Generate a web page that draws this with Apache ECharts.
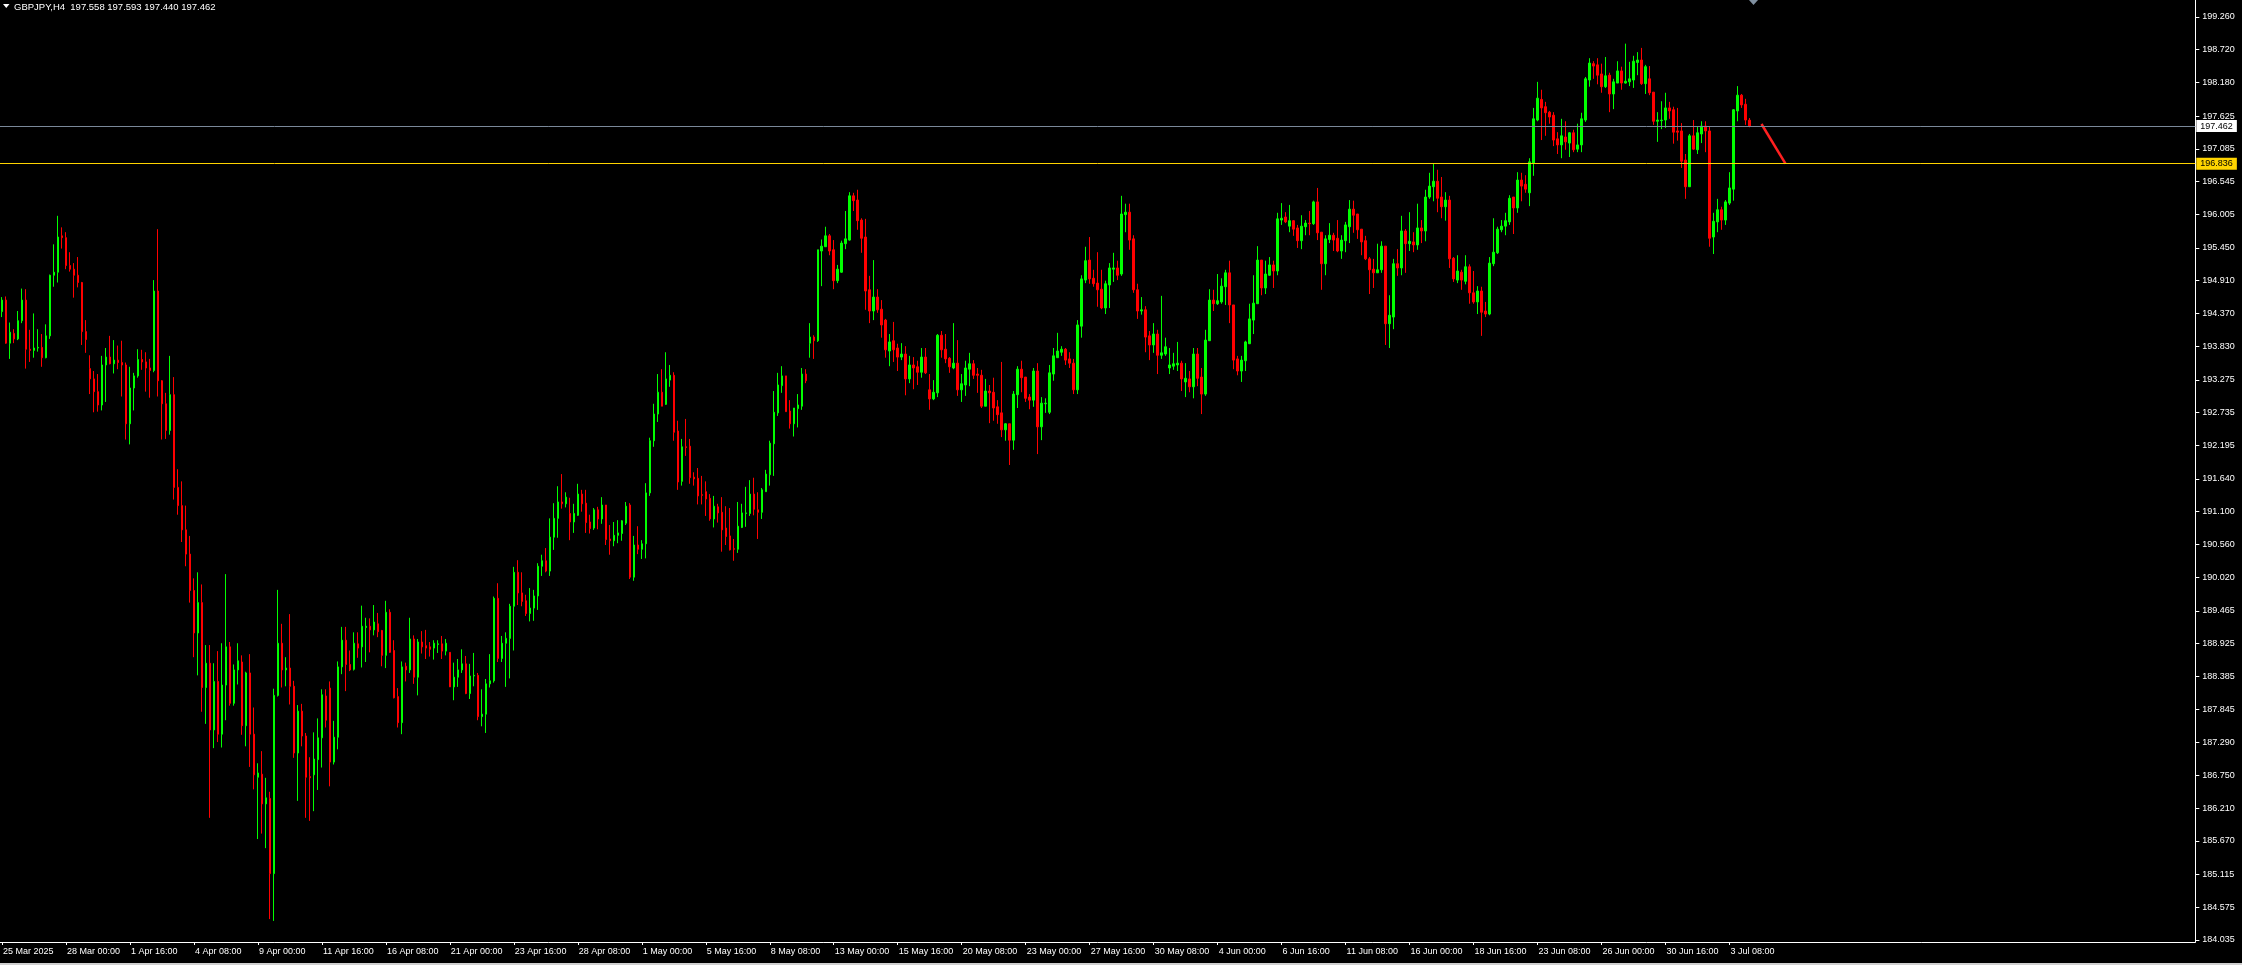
<!DOCTYPE html>
<html><head><meta charset="utf-8">
<script src="https://cdn.jsdelivr.net/npm/echarts@6/dist/echarts.min.js"></script>
<style>html,body{margin:0;padding:0;background:#000;overflow:hidden}#c{width:2242px;height:965px}</style>
</head><body><div id="c"></div>
<script>
const titleText = 'GBPJPY,H4  197.558 197.593 197.440 197.462';
const timeLabels = ['25 Mar 2025','28 Mar 00:00','1 Apr 16:00','4 Apr 08:00','9 Apr 00:00','11 Apr 16:00','16 Apr 08:00','21 Apr 00:00','23 Apr 16:00','28 Apr 08:00','1 May 00:00','5 May 16:00','8 May 08:00','13 May 00:00','15 May 16:00','20 May 08:00','23 May 00:00','27 May 16:00','30 May 08:00','4 Jun 00:00','6 Jun 16:00','11 Jun 08:00','16 Jun 00:00','18 Jun 16:00','23 Jun 08:00','26 Jun 00:00','30 Jun 16:00','3 Jul 08:00'];
const yTicks = [184.035,184.575,185.115,185.670,186.210,186.750,187.290,187.845,188.385,188.925,189.465,190.020,190.560,191.100,191.640,192.195,192.735,193.275,193.830,194.370,194.910,195.450,196.005,196.545,197.085,197.625,198.180,198.720,199.260];
const bidPrice = 197.462;
const levelPrice = 196.836;
const trendLine = [[439.7, 197.495], [446.3, 196.84]];

const opens = [
194.40,194.59,193.88,194.04,193.95,194.25,194.59,193.78,193.76,193.80,
193.81,193.64,194.00,195.00,195.05,195.65,195.62,195.16,195.10,195.00,
194.88,194.07,193.46,193.29,193.08,192.86,193.52,193.65,193.54,193.60,
193.56,193.52,192.55,193.14,193.34,193.61,193.57,193.47,193.43,194.74,
193.26,192.88,192.44,193.03,191.50,191.20,190.80,190.40,189.80,189.10,
189.60,188.20,188.60,187.50,188.30,187.43,188.24,188.87,187.94,188.49,
188.62,187.57,188.44,187.43,186.72,186.77,186.28,186.37,185.13,188.07,
188.93,188.49,188.52,188.22,187.12,187.81,187.40,186.73,186.76,187.01,
187.37,188.06,188.19,186.97,187.38,188.54,188.98,188.58,188.50,188.92,
188.87,189.19,189.21,189.15,189.25,189.14,188.73,189.44,188.81,188.05,
187.62,188.55,188.49,189.00,188.37,188.95,188.89,188.87,188.85,188.91,
188.92,188.80,188.78,188.21,188.37,188.49,188.59,188.10,188.39,188.40,
187.72,187.76,188.26,188.31,189.67,188.68,188.93,189.01,189.54,190.10,
189.76,189.63,189.42,189.51,189.71,190.20,190.29,190.12,190.68,190.99,
191.26,191.23,191.07,190.93,191.04,191.39,191.24,190.93,190.83,191.13,
190.98,191.21,190.65,190.62,190.71,190.74,190.91,191.21,190.02,190.55,
190.48,190.57,191.41,192.27,192.71,193.07,192.87,193.27,193.35,192.43,
191.60,192.17,192.18,191.67,191.65,191.38,191.43,191.32,190.98,191.18,
191.09,190.83,190.70,190.49,190.48,190.84,191.07,191.07,191.39,191.13,
191.09,191.43,191.71,192.22,192.73,193.18,193.34,192.76,192.55,192.80,
192.84,193.37,193.88,193.98,193.92,195.40,195.47,195.65,195.42,194.91,
195.05,195.52,195.58,196.31,196.24,195.91,195.63,194.76,194.41,194.64,
194.44,194.26,193.75,193.92,193.80,193.65,193.70,193.29,193.52,193.49,
193.40,193.65,193.11,192.96,193.06,194.01,193.78,193.63,193.47,193.55,
193.11,193.19,193.45,193.54,193.37,193.35,192.84,193.09,193.07,192.83,
192.73,192.45,192.55,192.28,193.03,193.45,193.32,192.99,192.94,193.42,
192.50,192.88,192.74,193.37,193.64,193.73,193.78,193.62,193.55,193.11,
194.16,194.92,195.25,194.95,194.87,194.77,194.46,194.84,195.10,195.12,
195.02,196.00,196.04,195.60,194.76,194.41,194.43,194.00,193.85,194.03,
193.68,193.70,193.47,193.50,193.52,193.55,193.24,193.29,193.16,193.70,
193.32,193.04,193.92,194.59,194.53,194.56,194.81,195.04,194.51,193.62,
193.42,193.59,193.87,194.26,194.53,195.25,194.79,195.00,195.17,195.07,
195.91,195.96,195.81,195.90,195.78,195.57,195.80,195.86,195.85,196.21,
195.71,195.19,195.59,195.66,195.61,195.40,195.57,195.80,196.09,196.01,
195.76,195.57,195.27,195.10,195.04,195.09,195.48,194.20,194.31,195.19,
195.12,195.73,195.52,195.55,195.50,195.78,195.73,196.29,196.46,196.55,
196.29,196.13,196.24,195.28,194.92,195.05,194.90,195.14,194.71,194.56,
194.74,194.41,194.36,195.19,195.37,195.75,195.81,195.88,196.29,196.11,
196.57,196.50,196.36,196.85,197.56,197.90,197.78,197.69,197.64,197.25,
197.15,197.28,197.18,197.35,197.08,197.15,197.56,198.22,198.49,198.47,
198.32,198.11,198.30,197.99,198.17,198.37,198.17,198.19,198.22,198.51,
198.55,198.16,198.24,198.02,197.54,197.55,197.56,197.76,197.73,197.38,
197.38,196.90,196.46,197.30,197.07,197.33,197.46,197.38,195.63,195.88,
196.08,195.91,196.19,196.42,197.71,197.97,197.82,197.558];

const highs = [
194.64,194.65,194.22,194.11,194.41,194.78,194.77,194.10,194.37,194.11,
194.03,194.19,195.01,195.51,195.98,195.79,195.71,195.38,195.20,195.30,
194.89,194.26,193.68,193.42,193.37,193.67,193.80,194.00,193.93,193.84,
193.92,193.56,193.49,193.39,193.78,193.77,193.73,193.62,194.92,195.76,
193.27,193.06,193.67,193.32,191.80,191.60,191.20,190.70,190.00,190.10,
189.90,188.90,188.90,188.60,188.80,188.93,190.07,188.95,188.58,188.93,
188.73,188.46,188.75,187.87,186.95,187.15,186.71,186.48,188.18,189.81,
189.25,188.70,189.41,188.31,187.91,187.93,187.45,187.05,187.46,187.69,
188.17,188.17,188.30,187.65,188.63,189.20,189.20,188.81,189.11,189.11,
189.55,189.35,189.34,189.56,189.43,189.15,189.63,189.49,188.98,188.19,
188.63,188.61,189.35,189.06,189.00,189.13,189.15,188.95,188.98,188.98,
189.05,189.00,188.78,188.61,188.67,188.83,188.72,188.59,188.77,188.44,
188.17,188.34,188.75,189.70,189.92,189.05,189.11,189.58,190.19,190.30,
190.10,189.73,189.84,189.81,190.25,190.39,190.50,190.99,191.24,191.52,
191.72,191.42,191.33,191.23,191.56,191.46,191.46,191.05,191.16,191.18,
191.34,191.21,190.88,190.93,190.96,190.96,191.26,191.24,190.70,190.86,
190.63,191.57,192.32,192.88,193.37,193.45,193.73,193.52,193.40,192.60,
192.30,192.63,192.30,191.75,191.82,191.69,191.60,191.39,191.36,191.23,
191.34,191.19,191.16,190.65,191.26,191.23,191.51,191.62,191.66,191.42,
191.49,191.79,192.27,193.09,193.39,193.50,193.34,192.94,192.81,193.04,
193.47,193.45,194.21,194.01,195.42,195.59,195.80,195.68,195.58,195.17,
195.57,196.06,196.37,196.36,196.41,195.94,195.93,194.99,195.25,194.77,
194.59,194.28,194.03,194.23,193.87,193.88,193.83,193.67,193.65,193.59,
193.80,193.80,193.37,193.27,194.03,194.08,194.03,193.65,194.21,193.93,
193.37,193.59,193.72,193.60,193.47,193.44,193.29,193.19,193.31,192.94,
193.57,192.56,192.55,193.09,193.50,193.59,193.32,193.04,193.47,193.55,
192.99,192.97,193.52,193.80,194.05,193.83,193.80,193.73,193.62,194.26,
195.00,195.47,195.63,195.09,195.38,195.09,194.91,195.20,195.37,195.24,
196.31,196.18,196.18,195.66,194.86,194.64,194.49,194.08,194.21,194.10,
194.66,193.97,193.80,193.72,193.90,193.59,193.55,193.42,193.80,193.80,
193.47,194.10,194.77,194.76,195.02,194.95,195.09,195.24,194.51,193.67,
193.67,193.92,194.53,195.00,195.48,195.25,195.24,195.30,195.24,196.03,
196.19,196.04,196.16,195.91,195.83,195.99,195.91,196.06,196.23,196.44,
195.71,195.66,195.86,195.70,195.91,195.66,195.88,196.24,196.23,196.01,
195.76,195.65,195.30,195.27,195.52,195.56,195.48,194.67,195.27,195.43,
195.98,195.76,196.04,195.71,196.18,195.91,196.41,196.69,196.84,196.74,
196.62,196.37,196.31,195.30,195.33,195.09,195.33,195.18,195.07,194.82,
194.81,194.56,195.30,195.94,195.80,195.91,196.03,196.32,196.29,196.70,
196.69,196.65,196.93,197.76,198.19,198.06,197.86,197.71,197.69,197.36,
197.58,197.54,197.36,197.40,197.50,197.68,198.27,198.58,198.53,198.58,
198.49,198.60,198.34,198.24,198.53,198.44,198.82,198.52,198.62,198.68,
198.75,198.47,198.45,198.02,197.69,197.87,198.01,197.86,197.78,197.76,
197.51,197.00,197.33,197.56,197.46,197.54,197.54,197.46,196.03,196.26,
196.13,196.24,196.70,197.74,198.12,197.99,197.91,197.593];

const lows = [
194.31,193.87,193.62,193.88,193.93,194.21,193.46,193.57,193.64,193.74,
193.49,193.63,193.95,194.81,194.88,195.44,195.10,195.06,194.63,194.80,
193.85,193.72,193.04,192.74,192.75,192.77,192.91,193.53,193.38,193.45,
193.00,192.29,192.21,192.77,193.31,193.44,193.08,192.98,193.40,193.00,
192.29,192.30,192.37,191.30,191.05,190.60,190.20,189.60,188.70,188.40,
187.80,187.60,186.05,187.20,187.30,187.21,187.66,187.90,187.90,188.25,
187.42,187.23,186.89,186.52,185.70,185.79,185.55,184.38,184.35,188.05,
188.20,188.22,187.92,187.04,186.33,187.23,186.05,186.00,186.16,186.51,
186.88,187.54,186.57,186.93,187.18,188.42,188.14,188.47,188.48,188.69,
188.53,188.62,188.78,189.06,189.03,188.55,188.52,188.77,188.02,187.54,
187.43,188.30,188.44,188.26,188.07,188.76,188.67,188.71,188.66,188.77,
188.67,188.73,188.21,187.99,188.21,188.44,188.09,188.01,188.22,187.66,
187.56,187.45,188.20,188.28,188.62,188.62,188.21,188.35,188.81,189.56,
189.54,189.38,189.29,189.30,189.48,190.04,190.10,190.04,190.47,190.67,
191.15,191.17,190.63,190.75,191.03,191.10,190.75,190.74,190.80,190.81,
190.90,190.55,190.39,190.53,190.58,190.62,190.88,189.99,189.96,190.40,
190.32,190.33,191.36,192.17,192.58,192.84,192.86,193.16,192.27,191.46,
191.53,192.02,191.56,191.53,191.22,191.22,191.03,190.95,190.84,190.92,
190.44,190.55,190.46,190.29,190.42,190.83,190.85,191.03,191.04,190.65,
190.98,191.43,191.53,191.69,192.68,193.06,192.75,192.47,192.34,192.49,
192.78,193.22,193.64,193.62,193.90,194.82,195.47,195.33,194.77,194.87,
195.04,195.43,195.57,196.06,195.75,195.37,194.43,194.21,194.26,194.38,
193.97,193.64,193.50,193.57,193.42,193.60,193.02,193.22,193.12,193.19,
193.31,193.37,192.78,192.94,192.99,193.64,193.55,193.39,193.45,193.01,
192.91,193.01,193.17,193.29,193.06,192.81,192.84,192.56,192.60,192.55,
192.33,192.27,191.87,192.12,192.81,193.07,192.91,192.79,192.83,192.05,
192.28,192.73,192.71,193.26,193.64,193.67,193.52,193.47,193.04,193.04,
193.97,194.87,194.86,194.81,194.48,194.44,194.36,194.46,194.89,194.92,
194.99,195.71,195.42,194.71,194.28,194.35,193.73,193.60,193.72,193.37,
193.62,193.67,193.37,193.44,193.42,193.09,192.99,193.07,192.97,193.17,
192.71,193.01,193.92,194.41,194.51,194.53,194.51,194.21,193.45,193.35,
193.24,193.42,193.87,194.03,194.53,194.67,194.69,194.99,194.79,195.00,
195.83,195.86,195.71,195.65,195.45,195.43,195.66,195.66,195.83,195.58,
194.76,195.00,195.53,195.40,195.38,195.27,195.38,195.53,195.70,195.60,
195.33,195.25,194.69,194.79,195.04,195.04,193.85,193.80,194.11,194.99,
195.00,195.04,195.40,195.38,195.42,195.53,195.56,196.26,196.22,196.04,
195.94,195.90,195.12,194.89,194.87,194.76,194.85,194.53,194.53,194.36,
194.00,194.31,194.34,195.15,195.35,195.71,195.66,195.83,195.68,196.03,
196.22,196.36,196.14,196.64,197.54,197.23,197.30,197.50,197.13,197.00,
196.93,197.07,196.95,197.03,197.03,197.03,197.53,198.11,198.24,198.15,
198.01,198.09,197.69,197.74,198.17,198.06,198.16,198.12,198.09,198.30,
198.14,197.99,197.97,197.48,197.20,197.41,197.43,197.58,197.17,197.22,
196.77,196.26,196.46,197.07,197.00,197.18,197.03,195.47,195.35,195.71,
195.75,195.83,196.16,196.23,197.54,197.76,197.48,197.440];

const closes = [
194.59,193.88,194.06,193.95,194.25,194.59,193.78,193.76,193.80,193.81,
193.64,194.00,195.00,195.05,195.63,195.62,195.16,195.10,195.00,194.88,
194.07,193.94,193.29,193.08,192.86,193.52,193.65,193.54,193.60,193.56,
193.52,192.55,193.14,193.34,193.61,193.57,193.47,193.43,194.74,193.26,
192.88,192.44,193.03,191.50,191.20,190.80,190.40,189.80,189.10,189.60,
188.20,188.60,187.50,188.30,187.43,188.24,188.87,187.94,188.49,188.64,
187.57,188.44,187.43,186.76,186.79,186.28,186.38,185.13,188.07,188.93,
188.49,188.52,188.22,187.12,187.81,187.40,186.72,186.71,187.02,187.37,
188.08,187.66,186.97,187.38,188.54,188.98,188.58,188.49,188.93,188.85,
189.21,189.21,189.15,189.28,189.12,188.73,189.44,188.78,188.03,187.62,
188.54,188.49,189.00,188.37,188.95,188.87,188.85,188.83,188.93,188.92,
188.80,188.93,188.21,188.37,188.49,188.59,188.10,188.39,188.40,187.72,
187.76,188.26,188.31,189.67,188.68,188.93,189.01,189.54,190.10,189.76,
189.62,189.42,189.51,189.71,190.20,190.29,190.12,190.68,190.99,191.26,
191.23,191.34,190.93,191.07,191.39,191.23,190.92,190.82,191.13,190.98,
191.21,190.64,190.62,190.71,190.75,190.95,191.19,190.02,190.55,190.48,
190.57,191.41,192.27,192.71,193.07,192.84,193.29,193.35,192.41,191.59,
192.17,192.16,191.66,191.64,191.36,191.37,191.31,190.98,191.19,191.08,
190.80,190.69,190.47,190.48,190.86,191.08,191.08,191.39,191.14,191.09,
191.46,191.72,192.23,192.74,193.19,193.34,192.75,192.55,192.81,192.86,
193.37,193.26,193.98,193.92,195.42,195.48,195.65,195.40,194.91,195.10,
195.53,195.60,196.31,196.23,195.90,195.61,194.74,194.41,194.64,194.43,
194.18,193.77,193.90,193.77,193.65,193.70,193.29,193.52,193.47,193.40,
193.65,193.39,192.96,193.07,194.01,193.77,193.62,193.49,193.55,193.11,
193.21,193.47,193.54,193.35,193.35,192.84,193.09,193.06,192.81,192.70,
192.45,192.55,192.28,193.04,193.45,193.31,192.97,192.94,193.42,192.50,
192.89,192.89,193.39,193.67,193.75,193.78,193.60,193.55,193.11,194.18,
194.94,195.24,194.94,194.86,194.76,194.46,194.86,195.12,195.12,195.00,
196.01,196.04,195.58,194.76,194.41,194.43,193.98,193.85,194.03,193.68,
193.72,193.82,193.52,193.54,193.55,193.29,193.30,193.16,193.70,193.30,
193.04,193.93,194.59,194.53,194.58,194.82,195.04,194.51,193.60,193.42,
193.60,193.90,194.28,194.54,195.25,194.79,195.02,195.17,195.07,195.93,
195.94,195.88,195.90,195.76,195.57,195.81,195.86,195.85,196.21,195.70,
195.19,195.60,195.66,195.58,195.40,195.58,195.83,196.09,195.99,195.75,
195.55,195.27,195.09,195.04,195.09,195.48,194.20,194.34,195.19,195.12,
195.73,195.52,195.56,195.50,195.78,195.73,196.29,196.47,196.55,196.27,
196.13,196.24,195.27,194.94,195.07,194.92,195.14,194.71,194.56,194.74,
194.39,194.36,195.20,195.38,195.76,195.81,195.90,196.27,196.11,196.57,
196.47,196.42,196.87,197.58,197.92,197.76,197.68,197.61,197.23,197.15,
197.30,197.20,197.35,197.07,197.15,197.58,198.24,198.50,198.45,198.30,
198.11,198.29,197.99,198.19,198.37,198.17,198.20,198.24,198.53,198.55,
198.16,198.44,198.01,197.54,197.56,197.56,197.76,197.71,197.36,197.36,
196.88,196.46,197.30,197.08,197.35,197.46,197.38,195.61,195.89,196.08,
195.91,196.21,196.44,197.73,197.97,197.81,197.56,197.462];

const FONT = '"Liberation Sans", Arial, sans-serif';
const N_CATS = 549;
const LABEL_STEP = 16;
const cats = [];
for (let i = 0; i < N_CATS; i++) {
  cats.push(i % LABEL_STEP === 0 && i / LABEL_STEP < timeLabels.length ? timeLabels[i / LABEL_STEP] : '');
}
const isLabelIdx = (i) => i % LABEL_STEP === 0 && i / LABEL_STEP < timeLabels.length;
const candles = opens.map((o, i) => [o, closes[i], lows[i], highs[i]]);

const chart = echarts.init(document.getElementById('c'), null, {renderer: 'canvas'});
chart.setOption({
  backgroundColor: '#000000',
  animation: false,
  grid: {left: -0.67, top: 0, width: 2196, height: 942, containLabel: false},
  xAxis: {
    type: 'category', data: cats, boundaryGap: true,
    axisLine: {show: true, lineStyle: {color: '#ffffff', width: 1}},
    axisTick: {show: true, interval: isLabelIdx, alignWithLabel: true, length: 3, lineStyle: {color: '#ffffff'}},
    axisLabel: {show: true, interval: isLabelIdx, align: 'left', color: '#ffffff', fontSize: 9, fontFamily: FONT, margin: 5, padding: [0, 0, 0, 1]},
    splitLine: {show: false}
  },
  yAxis: {
    type: 'value', position: 'right', min: 184.002, max: 199.540, scale: true,
    axisLine: {show: true, lineStyle: {color: '#ffffff', width: 1}},
    axisTick: {show: true, customValues: yTicks, length: 4, lineStyle: {color: '#ffffff'}},
    axisLabel: {show: true, customValues: yTicks, formatter: (v) => v.toFixed(3), color: '#ffffff', fontSize: 9, fontFamily: FONT, margin: 7},
    splitLine: {show: false}
  },
  series: [{
    type: 'candlestick',
    data: candles,
    barWidth: 2,
    itemStyle: {color: '#00ff00', color0: '#ff0000', borderColor: '#00ff00', borderColor0: '#ff0000', borderWidth: 1},
    markLine: {
      symbol: 'none', silent: true, animation: false, z: 20,
      data: [
        {yAxis: bidPrice, lineStyle: {color: '#7a8899', width: 1, type: 'solid'},
         label: {show: true, position: 'end', distance: 1, formatter: () => bidPrice.toFixed(3), backgroundColor: '#ffffff', color: '#000000', fontSize: 9, fontFamily: FONT, padding: [2, 4, 1, 4]}},
        {yAxis: levelPrice, lineStyle: {color: '#ffd400', width: 1, type: 'solid'},
         label: {show: true, position: 'end', distance: 1, formatter: () => levelPrice.toFixed(3), backgroundColor: '#ffd400', color: '#000000', fontSize: 9, fontFamily: FONT, padding: [2, 4, 1, 4]}}
      ]
    }
  }, {
    type: 'line',
    data: trendLine,
    showSymbol: false,
    lineStyle: {color: '#ff2020', width: 2.5},
    z: 5
  }],
  graphic: [
    {type: 'polygon', shape: {points: [[3, 4], [9.5, 4], [6.25, 8]]}, style: {fill: '#ffffff'}},
    {type: 'text', left: 14, top: 2, style: {text: titleText, fill: '#ffffff', font: '9.5px ' + FONT}},
    {type: 'polygon', shape: {points: [[1749, 0], [1758, 0], [1753.5, 5]]}, style: {fill: '#8090a0'}},
    {type: 'rect', shape: {x: 0, y: 963, width: 2242, height: 2}, style: {fill: '#cfcfcf'}}
  ]
});
</script>
</body></html>
